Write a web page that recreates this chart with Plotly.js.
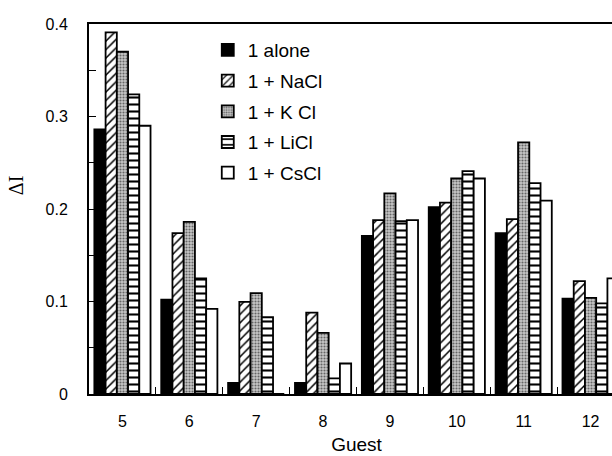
<!DOCTYPE html>
<html>
<head>
<meta charset="utf-8">
<script src="https://cdn.plot.ly/plotly-3.0.1.min.js"></script>
<style>
html,body{margin:0;padding:0;overflow:hidden;background:#fff;}
#chart{width:624px;height:456px;}
</style>
</head>
<body>
<div id="chart"></div>
<script>
const guests = ['5','6','7','8','9','10','11','12'];
const seriesNames = ['1 alone','1 + NaCl','1 + K Cl','1 + LiCl','1 + CsCl'];
const alone = [0.286, 0.102, 0.012, 0.012, 0.171, 0.202, 0.174, 0.103];
const nacl  = [0.391, 0.174, 0.0995, 0.088, 0.188, 0.207, 0.189, 0.122];
const kcl   = [0.370, 0.186, 0.109, 0.066, 0.217, 0.233, 0.272, 0.104];
const licl  = [0.324, 0.125, 0.083, 0.017, 0.187, 0.241, 0.228, 0.098];
const cscl  = [0.290, 0.092, 0.000, 0.033, 0.188, 0.233, 0.209, 0.125];
const yTicks = [0, 0.1, 0.2, 0.3, 0.4];
const yTickText = ['0', '0.1', '0.2', '0.3', '0.4'];

const line = {color: '#000', width: 1.8};
const styles = [
  {color: '#000', line: line},
  {color: '#fff', line: line, pattern: {shape: '/', fgcolor: '#000', bgcolor: '#fff', size: 6, solidity: 0.25}},
  {color: '#aaa', line: line, pattern: {shape: '.', fgcolor: '#666', bgcolor: '#c8c8c8', size: 3, solidity: 0.4}},
  {color: '#fff', line: line, pattern: {shape: '-', fgcolor: '#000', bgcolor: '#fff', size: 7, solidity: 0.3}},
  {color: '#fff', line: line}
];
const allValues = [alone, nacl, kcl, licl, cscl];
const traces = allValues.map((vals, i) => ({
  type: 'bar',
  name: seriesNames[i],
  x: guests,
  y: vals,
  marker: styles[i],
  legendgroup: 'g' + i
}));

const layout = {
  width: 624,
  height: 456,
  margin: {l: 89, r: 0, t: 24, b: 62},
  paper_bgcolor: '#fff',
  plot_bgcolor: '#fff',
  font: {family: '"Liberation Sans", Arial, sans-serif', color: '#000', size: 16},
  barmode: 'group',
  bargap: 0.16,
  bargroupgap: 0,
  showlegend: true,
  legend: {
    x: 0.222, y: 0.981, xanchor: 'left', yanchor: 'top',
    font: {size: 19, family: '"Liberation Sans", Arial, sans-serif'},
    bgcolor: 'rgba(0,0,0,0)', tracegroupgap: 3, itemwidth: 30
  },
  xaxis: {
    type: 'category',
    range: [-0.5, 7.5],
    showline: true, linecolor: '#000', linewidth: 2, mirror: true,
    ticks: 'inside', tickson: 'boundaries', ticklen: 7, tickcolor: '#000', tickwidth: 1,
    showgrid: false, zeroline: false,
    tickfont: {size: 16},
    ticklabelstandoff: 12,
    title: {text: 'Guest', font: {size: 19}, standoff: 8}
  },
  yaxis: {
    range: [0, 0.4],
    tickvals: yTicks, ticktext: yTickText,
    showline: true, linecolor: '#000', linewidth: 2, mirror: true,
    ticks: 'inside', ticklen: 7, tickcolor: '#000', tickwidth: 1,
    minor: {dtick: 0.05, ticks: 'inside', ticklen: 7, tickcolor: '#000', tickwidth: 1, showgrid: false},
    showgrid: false, zeroline: false,
    tickfont: {size: 16},
    ticklabelstandoff: 16
  },
  annotations: [{
    text: 'ΔI', xref: 'paper', yref: 'paper', x: -0.136, y: 0.565,
    xanchor: 'center', yanchor: 'middle', textangle: -90, showarrow: false,
    font: {family: '"Liberation Serif", "Times New Roman", serif', size: 20, color: '#000'}
  }]
};

Plotly.newPlot('chart', traces, layout, {staticPlot: true, displayModeBar: false});
</script>
</body>
</html>
